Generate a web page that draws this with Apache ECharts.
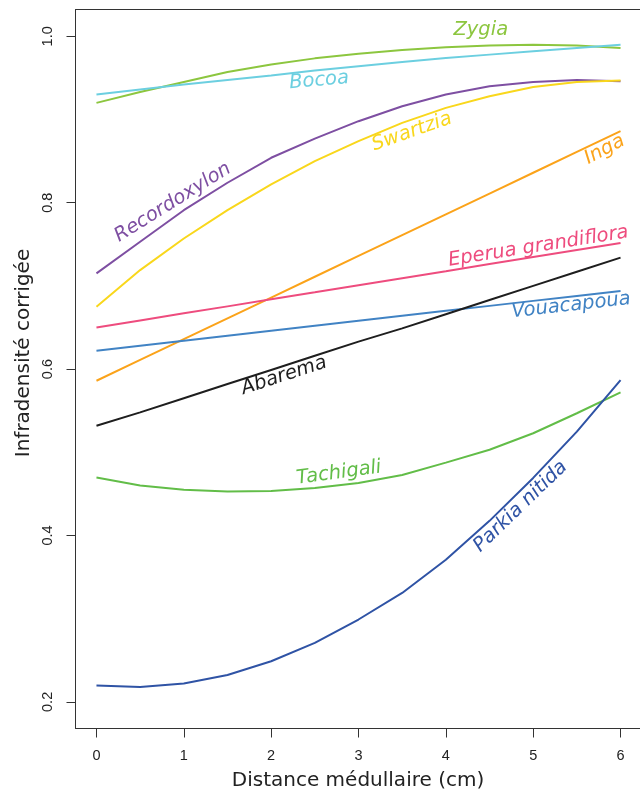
<!DOCTYPE html>
<html><head><meta charset="utf-8">
<script src="https://cdn.jsdelivr.net/npm/echarts@6/dist/echarts.min.js"></script>
<style>html,body{margin:0;padding:0;background:#fff}#c{width:640px;height:792px}</style>
</head><body><div id="c"></div>
<script>
// ---- data ----
const distance = [0, 0.5, 1, 1.5, 2, 2.5, 3, 3.5, 4, 4.5, 5, 5.5, 6];
const zygia        = [0.920, 0.933, 0.945, 0.957, 0.966, 0.9735, 0.979, 0.9835, 0.987, 0.989, 0.990, 0.989, 0.986];
const bocoa        = [0.930, 0.936, 0.942, 0.9475, 0.953, 0.959, 0.964, 0.969, 0.974, 0.978, 0.982, 0.986, 0.990];
const recordoxylon = [0.715, 0.753, 0.791, 0.824, 0.854, 0.877, 0.898, 0.916, 0.930, 0.940, 0.945, 0.9475, 0.946];
const swartzia     = [0.675, 0.719, 0.757, 0.791, 0.822, 0.850, 0.874, 0.896, 0.914, 0.928, 0.939, 0.945, 0.947];
const inga         = [0.586, 0.611, 0.636, 0.661, 0.686, 0.711, 0.736, 0.761, 0.786, 0.811, 0.836, 0.861, 0.886];
const eperua       = [0.650, 0.6585, 0.667, 0.6754, 0.6839, 0.6923, 0.7008, 0.7093, 0.7177, 0.7262, 0.7347, 0.7431, 0.7516];
const vouacapoua   = [0.622, 0.628, 0.634, 0.640, 0.646, 0.652, 0.658, 0.664, 0.670, 0.676, 0.682, 0.688, 0.694];
const abarema      = [0.532, 0.548, 0.565, 0.582, 0.599, 0.616, 0.633, 0.649, 0.666, 0.683, 0.700, 0.717, 0.734];
const tachigali    = [0.4696, 0.460, 0.455, 0.4528, 0.4535, 0.457, 0.463, 0.4728, 0.4876, 0.503, 0.5229, 0.5469, 0.572];
const parkia       = [0.2196, 0.218, 0.222, 0.2324, 0.2488, 0.2709, 0.299, 0.3309, 0.3708, 0.4176, 0.4692, 0.5248, 0.5868];

const xTicks = [0, 1, 2, 3, 4, 5, 6];
const yTicks = [0.2, 0.4, 0.6, 0.8, 1.0];
const xTitle = 'Distance médullaire (cm)';
const yTitle = 'Infradensité corrigée';

// ---- presentation ----
const seriesDefs = [
  { name: 'Zygia', values: zygia, color: '#8CC63F', label: [4.40, 1.0074, 0] },
  { name: 'Bocoa', values: bocoa, color: '#6CCFE0', label: [2.549, 0.9468, 5] },
  { name: 'Recordoxylon', values: recordoxylon, color: '#7E4FA2', label: [0.874, 0.8004, 32] },
  { name: 'Swartzia', values: swartzia, color: '#F9D71C', label: [3.611, 0.8852, 19.5] },
  { name: 'Inga', values: inga, color: '#FBA31A', label: [5.818, 0.8637, 28] },
  { name: 'Eperua grandiflora', values: eperua, color: '#EE4C7E', label: [5.059, 0.7474, 9] },
  { name: 'Vouacapoua', values: vouacapoua, color: '#4183C4', label: [5.434, 0.6764, 6.5] },
  { name: 'Abarema', values: abarema, color: '#1E1E1E', label: [2.148, 0.592, 18] },
  { name: 'Tachigali', values: tachigali, color: '#62BD48', label: [2.776, 0.4751, 7.8] },
  { name: 'Parkia nitida', values: parkia, color: '#2F53A5', label: [4.856, 0.4348, 44] }
];

const chart = echarts.init(document.getElementById('c'), null, { renderer: 'canvas' });
const tickFont = { fontFamily: 'Liberation Sans', fontSize: 14.5, color: '#222' };

chart.setOption({
  animation: false,
  backgroundColor: '#fff',
  grid: { left: 75.5, top: 9.7, width: 566, height: 718.8, show: false, outerBoundsMode: 'none' },
  xAxis: [{
    type: 'value', min: -0.24, max: 6.24, position: 'bottom',
    splitLine: { show: false },
    axisLine: { show: true, onZero: false, lineStyle: { color: '#333', width: 1 } },
    axisTick: { show: true, length: 9, lineStyle: { color: '#333' }, customValues: xTicks },
    axisLabel: Object.assign({ margin: 20, customValues: xTicks, formatter: v => String(v) }, tickFont)
  }, {
    type: 'value', min: -0.24, max: 6.24, position: 'top',
    splitLine: { show: false },
    axisLine: { show: true, onZero: false, lineStyle: { color: '#333', width: 1 } },
    axisTick: { show: false }, axisLabel: { show: false }
  }],
  yAxis: {
    type: 'value', min: 0.168, max: 1.032, position: 'left',
    splitLine: { show: false },
    axisLine: { show: true, onZero: false, lineStyle: { color: '#333', width: 1 } },
    axisTick: { show: true, length: 9, lineStyle: { color: '#333' }, customValues: yTicks },
    axisLabel: Object.assign({ margin: 20, rotate: 90, customValues: yTicks, formatter: v => Number(v).toFixed(1) }, tickFont)
  },
  series: seriesDefs.map(s => ({
    type: 'line', name: s.name, showSymbol: false, symbol: 'none', smooth: false,
    xAxisIndex: 0,
    lineStyle: { color: s.color, width: 2 },
    data: distance.map((d, i) => [d, s.values[i]])
  }))
});

const graphics = [
  { type: 'text', x: 358, y: 781, style: { text: xTitle, fontFamily: 'DejaVu Sans', fontSize: 20, fill: '#222', textAlign: 'center', textVerticalAlign: 'middle' } },
  { type: 'text', x: 24, y: 353, rotation: Math.PI / 2, style: { text: yTitle, fontFamily: 'DejaVu Sans', fontSize: 20, fill: '#222', textAlign: 'center', textVerticalAlign: 'middle' } }
];
seriesDefs.forEach(s => {
  const p = chart.convertToPixel({ xAxisIndex: 0, yAxisIndex: 0 }, [s.label[0], s.label[1]]);
  graphics.push({
    type: 'text', x: p[0], y: p[1], rotation: s.label[2] * Math.PI / 180,
    style: { text: s.name, fontFamily: 'DejaVu Sans', fontStyle: 'italic', fontSize: 19.5, fill: s.color, textAlign: 'center', textVerticalAlign: 'middle' }
  });
});
chart.setOption({ graphic: graphics });
</script></body></html>
